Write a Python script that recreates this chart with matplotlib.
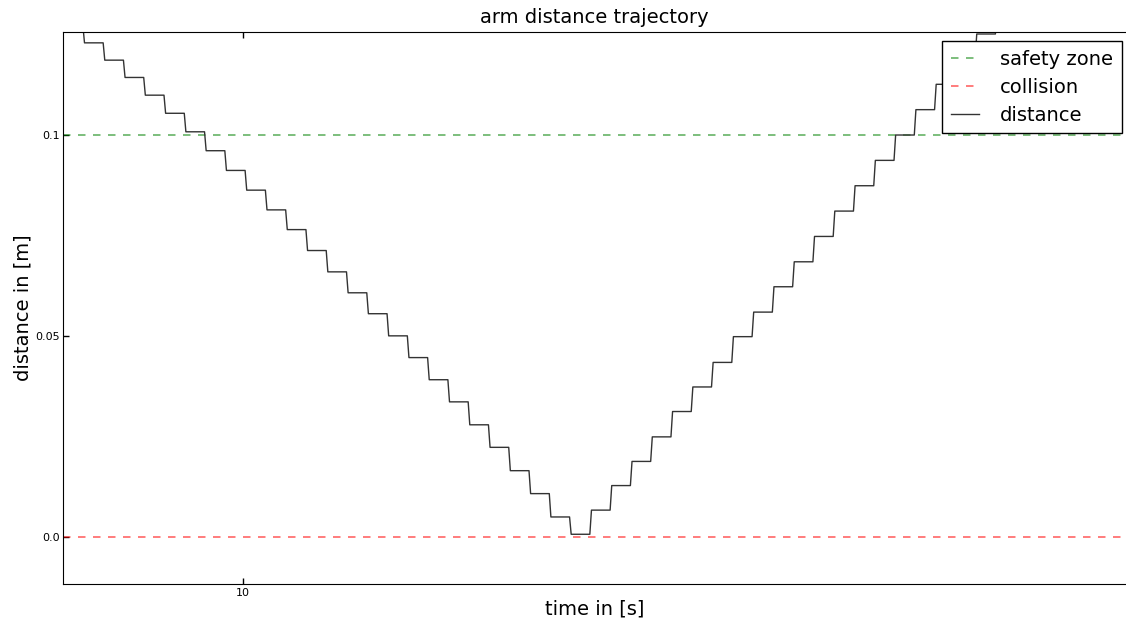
import matplotlib
matplotlib.use("Agg")
import matplotlib.pyplot as plt

# Datos
# instantes (s) en que la distancia cambia de escalon
step_times = [9.21, 9.31, 9.41, 9.51, 9.61, 9.71, 9.81, 9.91, 10.01, 10.11,
              10.21, 10.31, 10.41, 10.51, 10.61, 10.71, 10.81, 10.91, 11.01, 11.11,
              11.21, 11.31, 11.41, 11.51, 11.61, 11.71, 11.81, 11.91, 12.01, 12.11,
              12.21, 12.31, 12.41, 12.51, 12.61, 12.71, 12.81, 12.91, 13.01, 13.11,
              13.21, 13.31, 13.41, 13.51, 13.61, 13.71]
# distancia (m) antes del primer cambio y despues de cada cambio
levels = [0.1272,
          0.1229, 0.1186, 0.1143, 0.1099, 0.1054, 0.1008, 0.0961, 0.0912, 0.0863,
          0.0814, 0.0765, 0.0713, 0.0660, 0.0608, 0.0556, 0.0501, 0.0447, 0.0392,
          0.0337, 0.0280, 0.0224, 0.0166, 0.0109, 0.0051, 0.0008,
          0.0068, 0.0129, 0.0189, 0.0250, 0.0313, 0.0374, 0.0435, 0.0499, 0.0560,
          0.0623, 0.0685, 0.0748, 0.0811, 0.0874, 0.0937, 0.1000, 0.1063, 0.1126,
          0.1189, 0.1251,
          0.1313]
safety_zone = 0.1
collision = 0.0
t_start, t_end = 9.10, 14.40
ytick_vals = [0.0, 0.05, 0.1]
ytick_text = ["0.0", "0.05", "0.1"]
xtick_vals = [10]
xtick_text = ["10"]

# escalones con una pequena rampa entre muestras
ramp = 0.008
tt = [t_start]
dd = [levels[0]]
for k, t in enumerate(step_times):
    tt += [t, t + ramp]
    dd += [levels[k], levels[k + 1]]
tt.append(t_end)
dd.append(levels[-1])

fig = plt.figure(figsize=(11.26, 6.24), dpi=100)
ax = fig.add_axes([63 / 1126, 1 - 584.3 / 624, 1063 / 1126, 552.6 / 624])

ax.axhline(safety_zone, color="green", alpha=0.6, linewidth=1.2,
           linestyle=(0, (4.5, 4.5)), label="safety zone")
ax.axhline(collision, color="red", alpha=0.6, linewidth=1.2,
           linestyle=(0, (4.5, 4.5)), label="collision")
ax.plot(tt, dd, color="#333333", linewidth=1.0, label="distance")

ax.set_xlim(9.112, 14.354)
ax.set_ylim(-0.01163, 0.12567)
ax.set_xticks(xtick_vals, xtick_text)
ax.set_yticks(ytick_vals, ytick_text)
ax.tick_params(direction="in", length=4, width=1, top=True, right=False,
               labelsize=8, pad=2.5)
ax.spines["right"].set_visible(False)

ax.set_title("arm distance trajectory", fontsize=14)
ax.set_xlabel("time in [s]", fontsize=14, labelpad=1.5)
ax.set_ylabel("distance in [m]", fontsize=14, labelpad=2)

leg = ax.legend(loc="upper right", bbox_to_anchor=(0.9962, 0.9826),
                borderaxespad=0, fontsize=14, fancybox=False, framealpha=1,
                edgecolor="black", handlelength=1.45, handletextpad=1.1,
                borderpad=0.45, labelspacing=0.45)
leg.get_frame().set_linewidth(1.0)

plt.savefig("out.png", dpi=100)
